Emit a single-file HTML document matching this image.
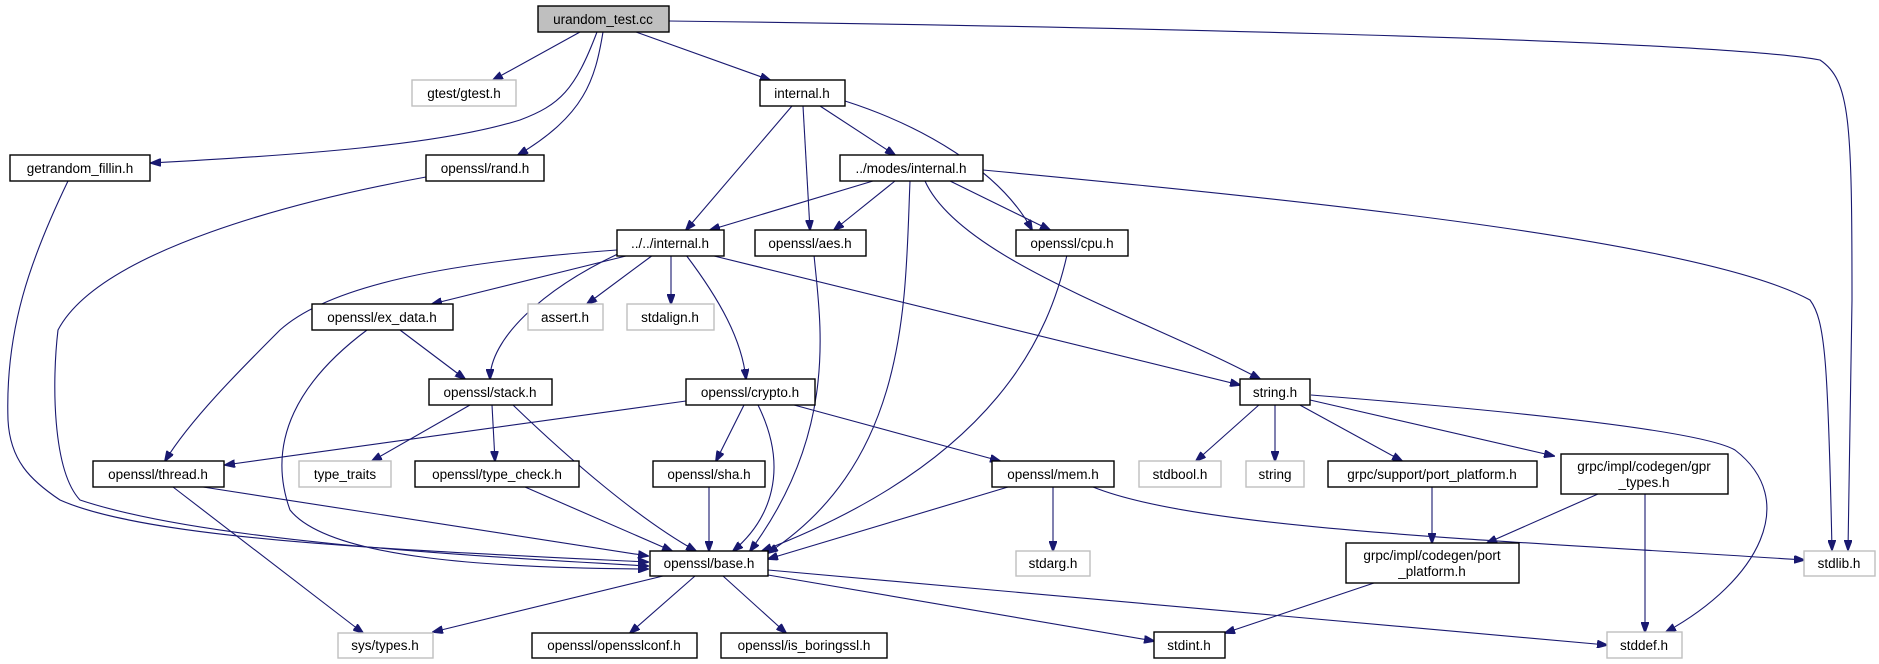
<!DOCTYPE html>
<html><head><meta charset="utf-8"><style>
html,body{margin:0;padding:0;background:#fff;}
svg{display:block;}
text{font-family:"Liberation Sans",sans-serif;font-size:13.5px;fill:#000;text-anchor:middle;}
.n{fill:#fff;stroke:#000;stroke-width:1.4;}
.g{fill:#fff;stroke:#bfbfbf;stroke-width:1.4;}
path{fill:none;stroke:#191970;stroke-width:1.1;}
</style></head><body>
<svg width="1879" height="664" viewBox="0 0 1879 664" xmlns="http://www.w3.org/2000/svg">
<defs><marker id="a" markerWidth="11" markerHeight="8" refX="10" refY="4" orient="auto" markerUnits="userSpaceOnUse"><polygon points="0,0 11,4 0,8" fill="#191970" stroke="#191970"/></marker></defs>
<g marker-end="url(#a)">
<path d="M580,32 L493,80"/>
<path d="M597,32 C575,90 560,105 520,120 C440,145 300,155 151,163"/>
<path d="M603,32 C595,80 585,115 518,155"/>
<path d="M636,32 L770,80"/>
<path d="M669,21 C1000,25 1700,38 1820,60 C1850,80 1852,120 1852,300 L1848,550"/>
<path d="M68,181 C30,260 5,330 8,420 C10,460 30,480 60,500 C150,540 400,550 648,562"/>
<path d="M426,177 C300,200 100,250 58,330 C52,380 52,470 80,500 C200,540 450,555 648,566"/>
<path d="M792,106 L686,230"/>
<path d="M803,106 L810,230"/>
<path d="M820,106 L895,155"/>
<path d="M845,101 C920,125 1000,170 1032,230"/>
<path d="M873,181 L710,230"/>
<path d="M895,181 L834,230"/>
<path d="M910,181 C905,300 910,460 768,553"/>
<path d="M950,181 L1050,230"/>
<path d="M925,181 C960,260 1150,320 1260,379"/>
<path d="M983,170 C1300,200 1700,240 1810,300 C1825,320 1828,360 1832,550"/>
<path d="M617,250 C450,262 330,285 280,330 C240,370 190,420 165,461"/>
<path d="M630,255 L432,304"/>
<path d="M622,252 C540,290 490,340 490,379"/>
<path d="M653,255 L587,304"/>
<path d="M671,255 L671,304"/>
<path d="M686,255 C720,300 742,340 746,379"/>
<path d="M710,255 L1240,385"/>
<path d="M814,255 C820,320 840,430 750,551"/>
<path d="M1067,255 C1050,330 1000,460 762,551"/>
<path d="M400,330 L465,379"/>
<path d="M367,330 C300,380 265,440 290,510 C330,560 500,568 648,569"/>
<path d="M470,405 L372,461"/>
<path d="M492,405 L495,461"/>
<path d="M513,405 C570,460 640,520 696,551"/>
<path d="M686,401 L225,465"/>
<path d="M744,405 L716,461"/>
<path d="M758,405 C790,470 770,520 733,551"/>
<path d="M794,405 L1000,461"/>
<path d="M203,487 L648,556"/>
<path d="M173,487 L363,633"/>
<path d="M525,487 L672,551"/>
<path d="M709,487 L709,551"/>
<path d="M1008,487 L768,559"/>
<path d="M1053,487 L1053,551"/>
<path d="M1093,487 C1200,530 1500,540 1804,560"/>
<path d="M1260,404 L1196,461"/>
<path d="M1275,404 L1275,461"/>
<path d="M1298,404 L1402,461"/>
<path d="M1310,400 L1554,456"/>
<path d="M1311,395 C1500,410 1700,430 1735,450 C1800,500 1760,580 1666,632"/>
<path d="M1432,487 L1432,543"/>
<path d="M1598,494 L1487,543"/>
<path d="M1645,494 L1645,632"/>
<path d="M1374,583 L1225,633"/>
<path d="M663,576 L433,632"/>
<path d="M695,576 L630,633"/>
<path d="M723,576 L786,633"/>
<path d="M768,575 L1154,641"/>
<path d="M768,570 L1607,645"/>
</g>
<rect x="538" y="6" width="131" height="26" fill="#bfbfbf" stroke="#000" stroke-width="1.4"/><text x="603" y="24">urandom_test.cc</text>
<rect class="g" x="412" y="80" width="104" height="26"/><text x="464" y="98">gtest/gtest.h</text>
<rect class="n" x="760" y="80" width="85" height="26"/><text x="802" y="98">internal.h</text>
<rect class="n" x="10" y="155" width="140" height="26"/><text x="80" y="173">getrandom_fillin.h</text>
<rect class="n" x="426" y="155" width="118" height="26"/><text x="485" y="173">openssl/rand.h</text>
<rect class="n" x="840" y="155" width="143" height="26"/><text x="911" y="173">../modes/internal.h</text>
<rect class="n" x="617" y="230" width="107" height="26"/><text x="670" y="248">../../internal.h</text>
<rect class="n" x="755" y="230" width="111" height="26"/><text x="810" y="248">openssl/aes.h</text>
<rect class="n" x="1016" y="230" width="112" height="26"/><text x="1072" y="248">openssl/cpu.h</text>
<rect class="n" x="312" y="304" width="141" height="26"/><text x="382" y="322">openssl/ex_data.h</text>
<rect class="g" x="528" y="304" width="75" height="26"/><text x="565" y="322">assert.h</text>
<rect class="g" x="627" y="304" width="87" height="26"/><text x="670" y="322">stdalign.h</text>
<rect class="n" x="429" y="379" width="123" height="26"/><text x="490" y="397">openssl/stack.h</text>
<rect class="n" x="686" y="379" width="129" height="26"/><text x="750" y="397">openssl/crypto.h</text>
<rect class="n" x="1240" y="379" width="70" height="26"/><text x="1275" y="397">string.h</text>
<rect class="n" x="93" y="461" width="131" height="26"/><text x="158" y="479">openssl/thread.h</text>
<rect class="g" x="299" y="461" width="92" height="26"/><text x="345" y="479">type_traits</text>
<rect class="n" x="415" y="461" width="164" height="26"/><text x="497" y="479">openssl/type_check.h</text>
<rect class="n" x="653" y="461" width="112" height="26"/><text x="709" y="479">openssl/sha.h</text>
<rect class="n" x="992" y="461" width="122" height="26"/><text x="1053" y="479">openssl/mem.h</text>
<rect class="g" x="1139" y="461" width="82" height="26"/><text x="1180" y="479">stdbool.h</text>
<rect class="g" x="1246" y="461" width="58" height="26"/><text x="1275" y="479">string</text>
<rect class="n" x="1328" y="461" width="209" height="26"/><text x="1432" y="479">grpc/support/port_platform.h</text>
<rect class="n" x="1561" y="454" width="167" height="40"/><text x="1644" y="471">grpc/impl/codegen/gpr</text><text x="1644" y="487">_types.h</text>
<rect class="n" x="650" y="551" width="118" height="25"/><text x="709" y="568">openssl/base.h</text>
<rect class="g" x="1016" y="551" width="74" height="25"/><text x="1053" y="568">stdarg.h</text>
<rect class="n" x="1346" y="543" width="173" height="40"/><text x="1432" y="560">grpc/impl/codegen/port</text><text x="1432" y="576">_platform.h</text>
<rect class="g" x="1804" y="551" width="71" height="25"/><text x="1839" y="568">stdlib.h</text>
<rect class="g" x="338" y="633" width="95" height="25"/><text x="385" y="650">sys/types.h</text>
<rect class="n" x="532" y="633" width="165" height="25"/><text x="614" y="650">openssl/opensslconf.h</text>
<rect class="n" x="721" y="633" width="166" height="25"/><text x="804" y="650">openssl/is_boringssl.h</text>
<rect class="n" x="1154" y="632" width="71" height="26"/><text x="1189" y="650">stdint.h</text>
<rect class="g" x="1607" y="632" width="75" height="26"/><text x="1644" y="650">stddef.h</text>
</svg>
</body></html>
